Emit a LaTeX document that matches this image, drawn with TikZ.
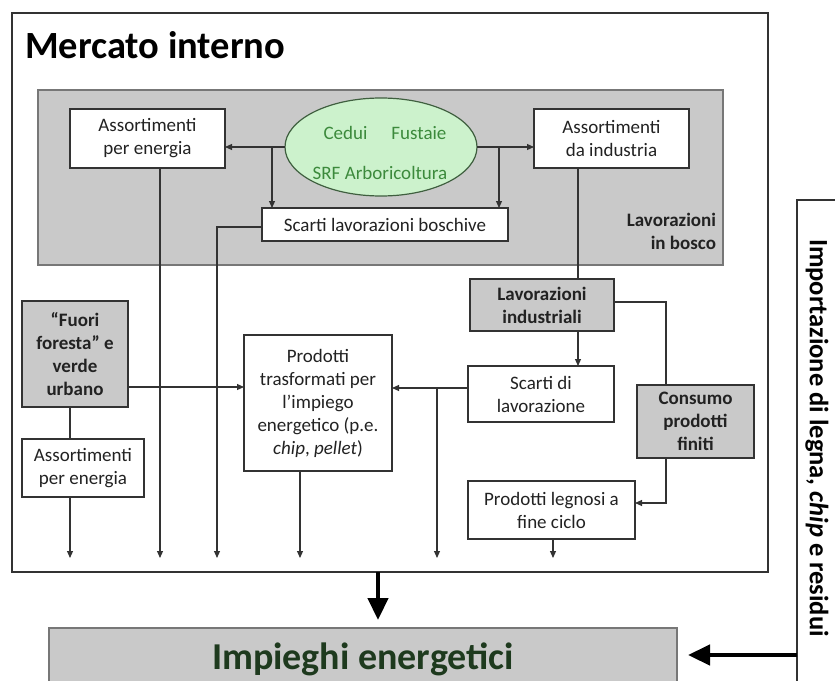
\documentclass[tikz,border=0pt]{standalone}
\usepackage{fontspec}
\setmainfont{Carlito}
\usetikzlibrary{arrows.meta,shapes.geometric}

\definecolor{edge}{HTML}{333333}
\definecolor{panel}{HTML}{C9C9C9}
\definecolor{panelline}{HTML}{777777}
\definecolor{leaf}{HTML}{CCF2CC}
\definecolor{leafline}{HTML}{3F5F3F}
\definecolor{leaftext}{HTML}{3C8A3C}
\definecolor{deepgreen}{HTML}{1E3A1E}
\definecolor{ink}{HTML}{222222}

\newcommand{\boxfont}{\fontsize{19}{23}\selectfont}

\tikzset{
  every node/.style={inner sep=0pt, outer sep=0pt, text=ink},
  box/.style={draw=edge, fill=white, line width=1.2pt, align=center, font=\boxfont},
  graybox/.style={box, fill=panel, font=\bfseries\boxfont},
  flow/.style={draw=edge, line width=1.1pt},
  flowarr/.style={flow, -{Triangle[length=7pt,width=6pt]}},
  bigarr/.style={draw=black, line width=4.5pt, -{Triangle[length=22pt,width=20pt]}},
}

\begin{document}
\begin{tikzpicture}[x=1pt, y=-1pt]
  \useasboundingbox (0,0) rectangle (835,680);
  \clip (0,0) rectangle (835,680);
  \fill[white] (0,0) rectangle (835,680);

  % domestic market frame
  \node[draw=edge, line width=1.5pt, minimum width=756pt, minimum height=559pt] (mercato) at (390,292.5) {};
  \node[anchor=base west, font=\bfseries\fontsize{38.5}{42}\selectfont, text=black] (title) at (25,58) {Mercato interno};

  % forest operations panel
  \node[draw=panelline, fill=panel, line width=1.5pt, minimum width=685pt, minimum height=175pt] (bosco) at (380.5,177.5) {};
  \node[anchor=east, align=right, font=\bfseries\boxfont] (boscolab) at (716,231) {Lavorazioni\\in bosco};

  \node[box, minimum width=155pt, minimum height=59pt] (aen1) at (147.5,138.5) {Assortimenti\\per energia};
  \node[draw=leafline, fill=leaf, line width=1.2pt, ellipse, minimum width=192pt, minimum height=98pt] (ell) at (381,147) {};
  \node[font=\boxfont, text=leaftext] (ellA) at (385,133) {Cedui\hspace{24pt}Fustaie};
  \node[font=\boxfont, text=leaftext] (ellB) at (380,173) {SRF Arboricoltura};
  \node[box, minimum width=155pt, minimum height=59pt] (aind) at (611.5,138.5) {Assortimenti\\da industria};
  \node[box, minimum width=246pt, minimum height=33pt] (scb) at (385,224.5) {Scarti lavorazioni boschive};

  % industrial chain
  \node[graybox, minimum width=144pt, minimum height=52pt] (lavind) at (542,305) {Lavorazioni\\industriali};
  \node[box, minimum width=146pt, minimum height=56pt] (scl) at (541,394) {Scarti di\\lavorazione};
  \node[graybox, minimum width=117pt, minimum height=73pt] (cons) at (695.5,421.5) {Consumo\\prodotti\\finiti};
  \node[box, minimum width=167pt, minimum height=58pt] (pleg) at (551.5,510) {Prodotti legnosi a\\fine ciclo};

  % processed products and other sources
  \node[box, minimum width=148pt, minimum height=136pt] (ptras) at (318,403)
    {Prodotti\\trasformati per\\l’impiego\\energetico (p.e.\\\textit{chip}, \textit{pellet})};
  \node[graybox, minimum width=106pt, minimum height=106pt] (fuori) at (75,354) {“Fuori\\foresta” e\\verde\\urbano};
  \node[box, minimum width=122pt, minimum height=58pt] (aen2) at (83,468) {Assortimenti\\per energia};

  % energy uses and imports
  \node[draw=panelline, fill=panel, line width=1.5pt, minimum width=628pt, minimum height=70pt] (imp) at (363,663) {};
  \node[font=\bfseries\fontsize{38}{42}\selectfont, text=deepgreen] (imptext) at (363,659) {Impieghi energetici};
  \node[draw=edge, line width=1.2pt, minimum width=63pt, minimum height=520pt] (estero) at (828.5,460) {};
  \node[rotate=-90, font=\bfseries\fontsize{26.5}{30}\selectfont, text=black] (esterotext) at (817,438)
    {Importazione di legna, \textit{chip} e residui};

  % junctions and outlets
  \coordinate (j1) at (272,147);
  \coordinate (j2) at (499,147);
  \coordinate (k1) at (578,168);
  \coordinate (k2) at (666,302);
  \coordinate (k3) at (666,503);
  \coordinate (k4) at (437,388);
  \coordinate (k5) at (128,387);
  \coordinate (k6) at (217,227);
  \coordinate (b1) at (70,558);
  \coordinate (b2) at (160,558);
  \coordinate (b3) at (217,558);
  \coordinate (b4) at (300,558);
  \coordinate (b5) at (437,558);
  \coordinate (b6) at (553,558);
  \coordinate (t1) at (378,572);
  \coordinate (t2) at (378,620);
  \coordinate (t3) at (797,655);
  \coordinate (t4) at (688,655);

  % flows inside the forest panel
  \draw[flowarr] (ell.west) -- (ell.west -| aen1.east);
  \draw[flowarr] (j1) -- (j1 |- scb.north);
  \draw[flowarr] (ell.east) -- (ell.east -| aind.west);
  \draw[flowarr] (j2) -- (j2 |- scb.north);

  % flows to the outlets
  \draw[flowarr] (b2 |- aen1.south) -- (b2);
  \draw[flowarr] (scb.west |- k6) -- (k6) -- (b3);
  \draw[flow] (k1) -- (k1 |- lavind.north);
  \draw[flowarr] (k1 |- lavind.south) -- (k1 |- scl.north);
  \draw[flow] (lavind.east |- k2) -- (k2) -- (k2 |- cons.north);
  \draw[flowarr] (k2 |- cons.south) -- (k3) -- (k3 -| pleg.east);
  \draw[flowarr] (b6 |- pleg.south) -- (b6);
  \draw[flowarr] (scl.west |- k4) -- (k4 -| ptras.east);
  \draw[flowarr] (k4) -- (b5);
  \draw[flowarr] (fuori.east |- k5) -- (k5 -| ptras.west);
  \draw[flow] (b1 |- fuori.south) -- (b1 |- aen2.north);
  \draw[flowarr] (b1 |- aen2.south) -- (b1);
  \draw[flowarr] (b4 |- ptras.south) -- (b4);

  % main flows
  \draw[bigarr] (t1) -- (t2);
  \draw[bigarr] (t3) -- (t4);
\end{tikzpicture}
\end{document}
